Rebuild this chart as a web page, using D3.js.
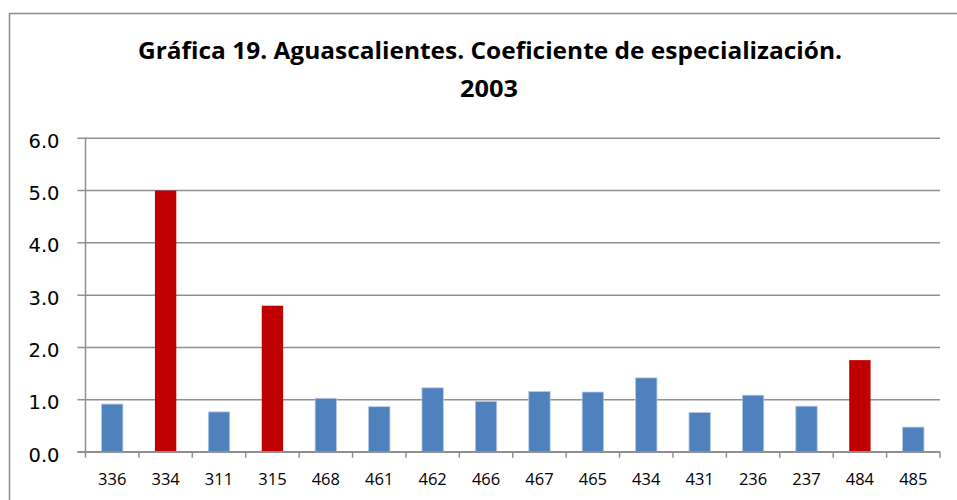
<!DOCTYPE html>
<html>
<head>
<meta charset="utf-8">
<script src="https://cdn.jsdelivr.net/npm/d3@7"></script>
<style>
  html, body { margin: 0; padding: 0; background: #fff; }
  svg { display: block; }
</style>
</head>
<body>
<svg id="chart" width="957" height="500"></svg>
<script>
// Coeficiente de especialización por rama (SCIAN), Aguascalientes 2003
const categories = ["336", "334", "311", "315", "468", "461", "462", "466",
                    "467", "465", "434", "431", "236", "237", "484", "485"];
const values = [0.91, 4.99, 0.76, 2.79, 1.02, 0.86, 1.22, 0.96,
                1.15, 1.14, 1.41, 0.75, 1.08, 0.87, 1.75, 0.47];
// Ramas resaltadas en rojo
const highlighted = ["334", "315", "484"];
const yTicks = [0, 1, 2, 3, 4, 5, 6];
const titleLines = ["Gráfica 19. Aguascalientes. Coeficiente de especialización.", "2003"];

const svg = d3.select("#chart");
const W = 957, H = 500;
const plot = { left: 85.5, right: 940, top: 137.7, bottom: 451.7 };

// Marco exterior del gráfico
svg.append("rect")
  .attr("x", 9.5).attr("y", 13.5)
  .attr("width", W).attr("height", H)
  .attr("fill", "none")
  .attr("stroke", "#8a8a8a")
  .attr("stroke-width", 1.5);

// Título en dos líneas
const title = svg.append("text")
  .attr("text-anchor", "middle")
  .attr("font-family", "'Open Sans', sans-serif")
  .attr("font-weight", "bold")
  .attr("font-size", 22.5)
  .attr("fill", "#000");
title.append("tspan")
  .attr("x", 490).attr("y", 59)
  .attr("textLength", 704)
  .attr("lengthAdjust", "spacingAndGlyphs")
  .text(titleLines[0]);
title.append("tspan")
  .attr("x", 489).attr("y", 97)
  .attr("textLength", 58)
  .attr("lengthAdjust", "spacingAndGlyphs")
  .text(titleLines[1]);

const x = d3.scaleBand()
  .domain(categories)
  .range([plot.left, plot.right])
  .paddingInner(0.6)
  .paddingOuter(0.3);

const y = d3.scaleLinear()
  .domain([0, 6])
  .range([plot.bottom, plot.top]);

// Líneas de cuadrícula horizontales (con marca hacia la izquierda)
const yAxis = d3.axisLeft(y)
  .tickValues(yTicks)
  .tickFormat(d3.format(".1f"))
  .tickSize(-(plot.right - plot.left))
  .tickPadding(26);

const gy = svg.append("g")
  .attr("transform", `translate(${plot.left},0)`)
  .call(yAxis);
gy.select(".domain").remove();
gy.selectAll(".tick line")
  .attr("x1", -8)
  .attr("stroke", "#8f8f8f")
  .attr("stroke-width", 1.5);
gy.selectAll(".tick text")
  .attr("font-family", "'DejaVu Sans', sans-serif")
  .attr("font-size", 19.5)
  .attr("fill", "#000")
  .attr("x", -26)
  .attr("dy", "0.48em");

// Eje vertical
svg.append("line")
  .attr("x1", plot.left).attr("x2", plot.left)
  .attr("y1", y(6)).attr("y2", y(0))
  .attr("stroke", "#8f8f8f")
  .attr("stroke-width", 1.5);

// Barras
svg.append("g")
  .selectAll("rect")
  .data(categories.map((c, i) => ({ c, v: values[i] })))
  .join("rect")
  .attr("x", d => x(d.c))
  .attr("y", d => y(d.v))
  .attr("width", x.bandwidth())
  .attr("height", d => y(0) - y(d.v))
  .attr("fill", d => highlighted.includes(d.c) ? "#C00000" : "#4F81BD")
  .attr("stroke", d => highlighted.includes(d.c) ? "none" : "#b4c8e2")
  .attr("stroke-width", 0.8);

// Eje horizontal con marcas entre categorías
const boundaries = d3.range(categories.length + 1).map(i => plot.left + i * (plot.right - plot.left) / categories.length);
svg.append("line")
  .attr("x1", plot.left - 8).attr("x2", plot.right)
  .attr("y1", y(0)).attr("y2", y(0))
  .attr("stroke", "#8f8f8f")
  .attr("stroke-width", 1.5);
svg.append("g")
  .selectAll("line")
  .data(boundaries)
  .join("line")
  .attr("x1", d => d).attr("x2", d => d)
  .attr("y1", y(0)).attr("y2", y(0) + 6)
  .attr("stroke", "#8f8f8f")
  .attr("stroke-width", 1.5);

// Etiquetas de categoría
svg.append("g")
  .selectAll("text")
  .data(categories)
  .join("text")
  .attr("x", d => x(d) + x.bandwidth() / 2)
  .attr("y", 485)
  .attr("text-anchor", "middle")
  .attr("font-family", "'Open Sans', sans-serif")
  .attr("font-size", 16.5)
  .attr("fill", "#000")
  .text(d => d);
</script>
</body>
</html>
